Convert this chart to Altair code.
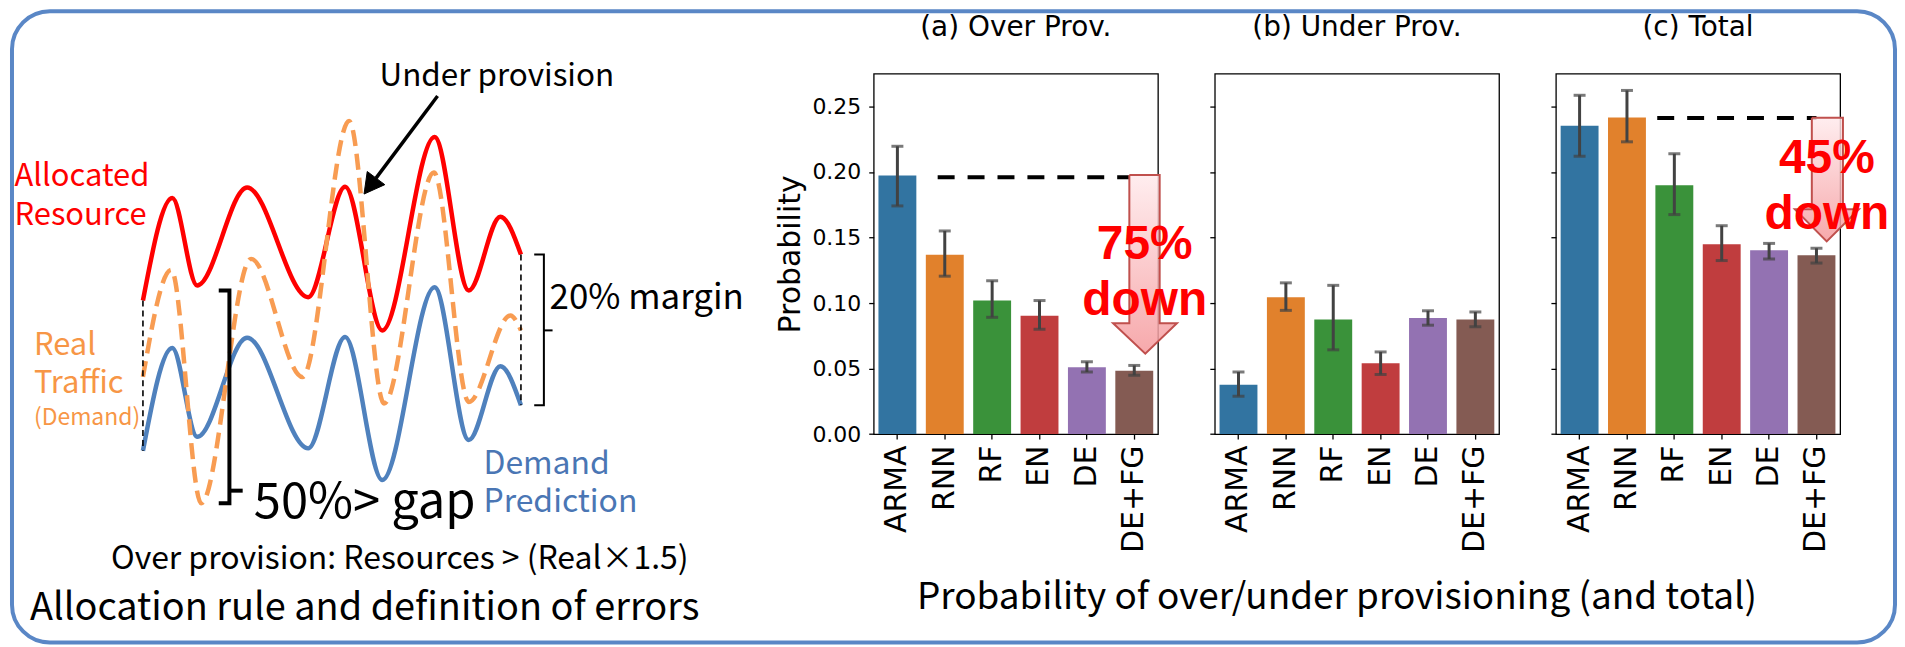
import altair as alt
import pandas as pd

# ---------------- bar chart data ----------------
models = ["ARMA", "RNN", "RF", "EN", "DE", "DE+FG"]
bar_colors = ["#3274a1", "#e1812c", "#3a923a", "#c03d3e", "#9372b2", "#845b53"]

over_mean = [0.1973, 0.1368, 0.1019, 0.0903, 0.0511, 0.0483]
over_lo = [0.1741, 0.1205, 0.0891, 0.0800, 0.0474, 0.0449]
over_hi = [0.2196, 0.1550, 0.1170, 0.1019, 0.0552, 0.0524]

under_mean = [0.0376, 0.1045, 0.0875, 0.0540, 0.0885, 0.0875]
under_lo = [0.0289, 0.0944, 0.0643, 0.0455, 0.0831, 0.0819]
under_hi = [0.0474, 0.1154, 0.1135, 0.0627, 0.0941, 0.0932]

total_mean = [0.2352, 0.2415, 0.1898, 0.1449, 0.1402, 0.1365]
total_lo = [0.2120, 0.2230, 0.1675, 0.1324, 0.1336, 0.1305]
total_hi = [0.2585, 0.2622, 0.2139, 0.1590, 0.1455, 0.1418]

y_ticks = [0.0, 0.05, 0.10, 0.15, 0.20, 0.25]
panel_titles = ["(a) Over Prov.", "(b) Under Prov.", "(c) Total"]

# annotations inside the bar panels (x in bar-index units, y in probability)
ref_a_u = [0.85, 4.91]
ref_a_v = [0.196, 0.196]
arrow_a_u = [4.896, 5.536, 5.536, 5.900, 5.233, 4.553, 4.896, 4.896]
arrow_a_v = [0.1977, 0.1977, 0.0846, 0.0846, 0.0614, 0.0846, 0.0846, 0.1977]
label_a = ["75%", "down"]
label_a_u = [5.22, 5.22]
label_a_v = [0.1336, 0.0905]

ref_c_u = [1.639, 5.0]
ref_c_v = [0.2412, 0.2412]
arrow_c_u = [4.902, 5.559, 5.559, 5.896, 5.216, 4.544, 4.902, 4.902]
arrow_c_v = [0.2413, 0.2413, 0.1716, 0.1716, 0.1470, 0.1716, 0.1716, 0.2413]
label_c = ["45%", "down"]
label_c_u = [5.22, 5.22]
label_c_v = [0.1994, 0.1564]

# ---------------- diagram data (image coordinates) ----------------
red_x = [143.3, 172.7, 197.7, 247.7, 309.0, 346.0, 383.3, 435.7, 470.0, 501.7, 522.3]
red_y = [300.0, 197.3, 285.0, 186.7, 296.7, 186.0, 330.0, 136.0, 290.0, 216.0, 254.0]
blue_x = [143.3, 172.7, 197.7, 247.7, 309.0, 346.0, 383.3, 435.7, 470.0, 501.7, 522.3]
blue_y = [450.7, 347.7, 436.7, 337.3, 448.3, 336.7, 480.0, 286.7, 440.0, 366.0, 405.0]
orange_x = [143.3, 171.7, 201.7, 251.7, 303.3, 350.0, 385.0, 435.0, 470.0, 511.7, 522.3]
orange_y = [376.7, 269.3, 503.3, 258.3, 376.7, 120.0, 403.3, 171.7, 401.7, 315.0, 330.0]

guide_x = [143.3, 143.3, 522.3, 522.3]
guide_y = [300.0, 450.7, 254.0, 405.0]
guide_g = [0, 0, 1, 1]

margin_br_x = [535.6, 545.3, 545.3, 535.6, 545.3, 554.0]
margin_br_y = [254.0, 254.0, 405.0, 405.0, 330.0, 330.0]
margin_br_g = [0, 0, 0, 0, 1, 1]

gap_br_x = [219.3, 230.0, 230.0, 219.3, 230.0, 243.3]
gap_br_y = [290.0, 290.0, 503.3, 503.3, 490.7, 490.7]
gap_br_g = [0, 0, 0, 0, 1, 1]

under_arrow_x = [438.7, 377.0]
under_arrow_y = [95.0, 177.3]
under_head_x = [365.0, 385.8, 368.2, 365.0]
under_head_y = [193.3, 183.9, 170.7, 193.3]

frame_x, frame_x2, frame_y, frame_y2 = [12.0], [1900.0], [10.0], [643.0]

# ---------------- helpers ----------------
LX = alt.Scale(domain=[12, 819], nice=False, zero=False)
LY = alt.Scale(domain=[72.6, 434.0], nice=False, zero=False, reverse=True)


def ex(f="x"):
    return alt.X(f"{f}:Q", scale=LX, axis=None)


def ey(f="y"):
    return alt.Y(f"{f}:Q", scale=LY, axis=None)


def path(xs, ys, groups=None, **style):
    df = pd.DataFrame({"x": xs, "y": ys, "k": list(range(len(xs))),
                       "g": groups if groups is not None else [0] * len(xs)})
    return alt.Chart(df).mark_line(**style).encode(x=ex(), y=ey(), order="k:Q", detail="g:N")


def curve(xs, ys, **style):
    df = pd.DataFrame({"x": xs, "y": ys})
    return alt.Chart(df).mark_line(interpolate="monotone", **style).encode(x=ex(), y=ey())


def label(texts, xs, ys, **style):
    df = pd.DataFrame({"t": texts, "x": xs, "y": ys})
    base = dict(baseline="alphabetic", align="left", font="Noto Sans CJK JP")
    base.update(style)
    return alt.Chart(df).mark_text(**base).encode(x=ex(), y=ey(), text="t:N")


RED, ORANGE, BLUE = "#ff0000", "#f79646", "#4f81bd"

frame = alt.Chart(pd.DataFrame({"x": frame_x, "x2": frame_x2, "y": frame_y, "y2": frame_y2})).mark_rect(
    cornerRadius=38, fillOpacity=0, stroke="#5a87c6", strokeWidth=4
).encode(x=ex(), x2="x2:Q", y=ey(), y2="y2:Q")

diagram = alt.layer(
    frame,
    curve(red_x, red_y, color=RED, strokeWidth=4.5),
    curve(blue_x, blue_y, color=BLUE, strokeWidth=4.5),
    curve(orange_x, orange_y, color="#f89c52", strokeWidth=4.5, strokeDash=[16, 8]),
    path(guide_x, guide_y, guide_g, color="black", strokeWidth=1.6, strokeDash=[6, 4]),
    path(margin_br_x, margin_br_y, margin_br_g, color="black", strokeWidth=2),
    path(gap_br_x, gap_br_y, gap_br_g, color="black", strokeWidth=4),
    path(under_arrow_x, under_arrow_y, color="black", strokeWidth=3.5),
    path(under_head_x, under_head_y, fill="black", color="black", strokeWidth=1),
    label(["Under provision"], [380.5], [84.6], fontSize=31.5, color="black"),
    label(["Allocated", "Resource"], [14.5, 14.5], [185.6, 224.8], fontSize=31, color=RED),
    label(["Real", "Traffic"], [34, 34], [354.8, 392.7], fontSize=31, color=ORANGE),
    label(["(Demand)"], [34], [425], fontSize=23, color=ORANGE),
    label(["Demand", "Prediction"], [484.7, 484.7], [473.6, 511.6], fontSize=32, color="#4a76b4"),
    label(["20% margin"], [551], [308.6], fontSize=35, color="black"),
    label(["50%> gap"], [254.5], [517.7], fontSize=49, color="black"),
    label(["Over provision: Resources > (Real×1.5)"], [400.8], [569], fontSize=32,
          color="black", align="center"),
    label(["Allocation rule and definition of errors"], [30], [620.5], fontSize=38, color="black"),
    label(["Probability of over/under provisioning (and total)"], [1340.5], [609], fontSize=37,
          color="black", align="center"),
).properties(width=807, height=361.4)

# ---------------- bar panels ----------------
YS = alt.Scale(domain=[0, 0.275], nice=False, zero=True)
XB = alt.Scale(domain=models, paddingInner=0.2, paddingOuter=0.1)
UQ = alt.Scale(domain=[-0.5, 5.5], nice=False, zero=False)
GRAD = alt.Gradient(gradient="linear", x1=0, y1=0, x2=0, y2=1,
                    stops=[alt.GradientStop(color="#ffeaec", offset=0),
                           alt.GradientStop(color="#f59a9d", offset=1)])


def panel(title, mean, lo, hi, first, annot=None):
    df = pd.DataFrame({"model": models, "p": mean, "lo": lo, "hi": hi})
    if first:
        yax = alt.Axis(values=y_ticks, format=".2f", labelFontSize=22, labelPadding=8,
                       titleFontSize=30, titleFontWeight="normal", titlePadding=6)
        ytitle = "Probability"
    else:
        yax = alt.Axis(values=y_ticks, labels=False)
        ytitle = None
    xax = alt.Axis(labelAngle=270, labelFontSize=30, labelPadding=6)

    def xb():
        return alt.X("model:N", sort=models, scale=XB, axis=xax, title=None)

    def yf(f):
        return alt.Y(f"{f}:Q", scale=YS, axis=yax, title=ytitle)

    bars = alt.Chart(df).mark_bar().encode(
        x=xb(), y=yf("p"),
        color=alt.Color("model:N", scale=alt.Scale(domain=models, range=bar_colors), legend=None),
    )
    rules = alt.Chart(df).mark_rule(color="#424242", strokeWidth=3).encode(
        x=xb(), y=yf("lo"), y2="hi:Q")
    cap_hi = alt.Chart(df).mark_tick(color="#424242", thickness=3, size=12).encode(
        x=xb(), y=yf("hi"))
    cap_lo = alt.Chart(df).mark_tick(color="#424242", thickness=3, size=12).encode(
        x=xb(), y=yf("lo"))
    base = alt.layer(bars, rules, cap_hi, cap_lo)
    if annot is not None:
        ru, rv, au, av, lt, lu, lv = annot
        uq = alt.X("u:Q", scale=UQ, axis=None)
        vq = yf("v")
        ref = alt.Chart(pd.DataFrame({"u": ru, "v": rv})).mark_line(
            color="black", strokeWidth=4, strokeDash=[17, 13]).encode(x=uq, y=vq)
        arr = alt.Chart(pd.DataFrame({"u": au, "v": av, "k": list(range(len(au)))})).mark_line(
            fill=GRAD, fillOpacity=0.85, stroke="#c0504d", strokeWidth=2).encode(
            x=uq, y=vq, order="k:Q")
        txt = alt.Chart(pd.DataFrame({"u": lu, "v": lv, "t": lt})).mark_text(
            font="Liberation Sans", fontWeight="bold", fontSize=48, color="#ff0000",
            align="center", baseline="alphabetic").encode(x=uq, y=vq, text="t:N")
        chart = alt.layer(base, alt.layer(ref, arr, txt)).resolve_scale(x="independent")
    else:
        chart = base
    return chart.properties(
        width=285, height=361.4,
        title=alt.TitleParams(title, font="DejaVu Sans", fontSize=28, fontWeight="normal",
                              anchor="middle", baseline="alphabetic", offset=10, color="black"),
        view=alt.ViewBackground(stroke="black", strokeWidth=1.3),
    )


pa = panel(panel_titles[0], over_mean, over_lo, over_hi, True,
           (ref_a_u, ref_a_v, arrow_a_u, arrow_a_v, label_a, label_a_u, label_a_v))
pb = panel(panel_titles[1], under_mean, under_lo, under_hi, False)
pc = panel(panel_titles[2], total_mean, total_lo, total_hi, False,
           (ref_c_u, ref_c_v, arrow_c_u, arrow_c_v, label_c, label_c_u, label_c_v))

chart = alt.hconcat(diagram, pa, pb, pc, spacing=57, bounds="flush").properties(
    padding={"left": 2, "top": 0, "right": 0, "bottom": 0},
    background="white",
).configure_view(stroke=None).configure_axis(
    labelFont="DejaVu Sans", titleFont="DejaVu Sans", labelColor="black", titleColor="black",
    tickColor="black", tickWidth=1.3, tickSize=5, domain=False, grid=False,
)

chart.save("out.html", embed_options={"renderer": "svg", "actions": False})
